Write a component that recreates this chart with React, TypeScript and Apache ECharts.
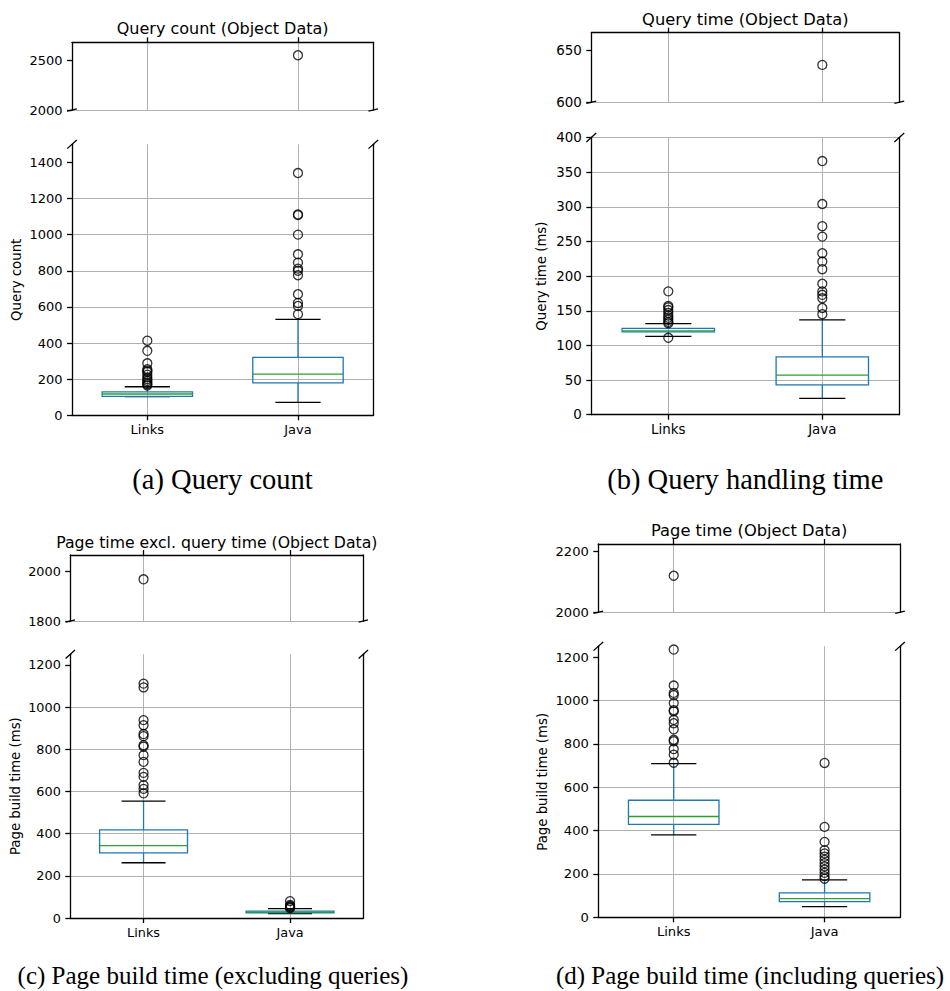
import React, { useEffect, useRef } from "react";
import * as echarts from "echarts";

// ---------- data ----------
const categories = ["Links", "Java"];

// (a) Query count
const countTitle = "Query count (Object Data)";
const countYName = "Query count";
const countTopRange = [2000, 2680];
const countTopTicks = [2000, 2500];
const countBottomRange = [0, 1500];
const countBottomTicks = [0, 200, 400, 600, 800, 1000, 1200, 1400];
// [lower whisker, Q1, median, Q3, upper whisker]
const countLinksBox = [103, 105, 118, 130, 158];
const countJavaBox = [72, 179, 228, 321, 531];
const countLinksOutliers = [413, 357, 288, 255, 247, 240, 225, 210, 200, 190, 180, 172, 165];
const countJavaOutliers = [2550, 1341, 1112, 1108, 1000, 891, 845, 812, 800, 775, 670, 622, 605, 560];

// (b) Query time
const qtimeTitle = "Query time (Object Data)";
const qtimeYName = "Query time (ms)";
const qtimeTopRange = [600, 667];
const qtimeTopTicks = [600, 650];
const qtimeBottomRange = [0, 400];
const qtimeBottomTicks = [0, 50, 100, 150, 200, 250, 300, 350, 400];
const qtimeLinksBox = [113, 119.4, 121, 124.7, 131.4];
const qtimeJavaBox = [23.6, 43, 57, 83.3, 136.7];
const qtimeLinksOutliers = [178, 157, 155, 151, 147, 143, 140, 137, 134, 132, 111];
const qtimeJavaOutliers = [636, 366, 304, 272, 257, 233, 221, 210, 189, 178, 173, 168, 154, 145];

// (c) Page time excluding query time
const pexclTitle = "Page time excl. query time (Object Data)";
const pexclYName = "Page build time (ms)";
const pexclTopRange = [1800, 2066];
const pexclTopTicks = [1800, 2000];
const pexclBottomRange = [0, 1250];
const pexclBottomTicks = [0, 200, 400, 600, 800, 1000, 1200];
const pexclLinksBox = [262, 309, 343, 418, 554];
const pexclJavaBox = [21, 25, 28, 33, 44];
const pexclLinksOutliers = [1968, 1111, 1093, 938, 914, 872, 862, 819, 812, 772, 740, 688, 669, 630, 612, 591];
const pexclJavaOutliers = [80, 62, 57, 53, 50, 47];

// (d) Page time
const ptimeTitle = "Page time (Object Data)";
const ptimeYName = "Page build time (ms)";
const ptimeTopRange = [2000, 2224];
const ptimeTopTicks = [2000, 2200];
const ptimeBottomRange = [0, 1250];
const ptimeBottomTicks = [0, 200, 400, 600, 800, 1000, 1200];
const ptimeLinksBox = [380, 429, 465, 540, 709];
const ptimeJavaBox = [49, 72, 86, 113, 173];
const ptimeLinksOutliers = [2120, 1235, 1069, 1035, 1025, 988, 955, 950, 911, 895, 867, 819, 812, 776, 750, 713];
const ptimeJavaOutliers = [712, 417, 348, 310, 295, 280, 265, 250, 235, 220, 205, 190, 178];

const captions = [
  "(a) Query count",
  "(b) Query handling time",
  "(c) Page build time (excluding queries)",
  "(d) Page build time (including queries)",
];

// ---------- layout / style ----------
const BLUE = "#1f77b4";
const GREEN = "#2ca02c";
const GRID = "#b0b0b0";
const INK = "#000000";
const SANS = "DejaVu Sans";
const SERIF = "Liberation Serif";

type Rect = [number, number, number, number];
const layouts: {
  top: Rect;
  bottom: Rect;
  titleY: number;
  titleSize: number;
  tickSize: number;
  nameGap: number;
  capX: number;
  capY: number;
  capSize: number;
}[] = [
  { top: [72, 42.3, 301.3, 67.7], bottom: [72, 144.3, 301.3, 271], titleY: 28.5, titleSize: 16, tickSize: 13, nameGap: 49, capX: 222.5, capY: 479, capSize: 28.5 },
  { top: [591.3, 32.7, 308, 69.6], bottom: [591.3, 137.5, 308, 277.2], titleY: 19.2, titleSize: 16.3, tickSize: 13.4, nameGap: 43, capX: 745.3, capY: 479, capSize: 28.5 },
  { top: [70.3, 555, 293, 66], bottom: [70.3, 654.3, 293, 263.7], titleY: 542.5, titleSize: 15.7, tickSize: 12.8, nameGap: 48, capX: 213, capY: 975, capSize: 25 },
  { top: [598.3, 544, 301.7, 68.3], bottom: [598.3, 646.3, 301.7, 271], titleY: 530.8, titleSize: 16.3, tickSize: 13.1, nameGap: 49, capX: 750, capY: 975, capSize: 25 },
];

const panels = [
  { title: countTitle, yName: countYName, topRange: countTopRange, topTicks: countTopTicks, bottomRange: countBottomRange, bottomTicks: countBottomTicks, boxes: [countLinksBox, countJavaBox], outliers: [countLinksOutliers, countJavaOutliers] },
  { title: qtimeTitle, yName: qtimeYName, topRange: qtimeTopRange, topTicks: qtimeTopTicks, bottomRange: qtimeBottomRange, bottomTicks: qtimeBottomTicks, boxes: [qtimeLinksBox, qtimeJavaBox], outliers: [qtimeLinksOutliers, qtimeJavaOutliers] },
  { title: pexclTitle, yName: pexclYName, topRange: pexclTopRange, topTicks: pexclTopTicks, bottomRange: pexclBottomRange, bottomTicks: pexclBottomTicks, boxes: [pexclLinksBox, pexclJavaBox], outliers: [pexclLinksOutliers, pexclJavaOutliers] },
  { title: ptimeTitle, yName: ptimeYName, topRange: ptimeTopRange, topTicks: ptimeTopTicks, bottomRange: ptimeBottomRange, bottomTicks: ptimeBottomTicks, boxes: [ptimeLinksBox, ptimeJavaBox], outliers: [ptimeLinksOutliers, ptimeJavaOutliers] },
];

const LW = 1.3;

function renderBox(params: any, api: any) {
  const x = api.value(0);
  const pLow = api.coord([x, api.value(1)]);
  const pQ1 = api.coord([x, api.value(2)]);
  const pMed = api.coord([x, api.value(3)]);
  const pQ3 = api.coord([x, api.value(4)]);
  const pHigh = api.coord([x, api.value(5)]);
  const band = api.size([1, 0])[0];
  const bw = band * 0.6;
  const cw = band * 0.3;
  const cx = pMed[0];
  const line = (x1: number, y1: number, x2: number, y2: number, c: string) => ({
    type: "line",
    shape: { x1, y1, x2, y2 },
    style: { stroke: c, lineWidth: LW, fill: "none" },
  });
  return {
    type: "group",
    children: [
      line(cx, pQ1[1], cx, pLow[1], BLUE),
      line(cx, pQ3[1], cx, pHigh[1], BLUE),
      line(cx - cw / 2, pLow[1], cx + cw / 2, pLow[1], INK),
      line(cx - cw / 2, pHigh[1], cx + cw / 2, pHigh[1], INK),
      {
        type: "rect",
        shape: { x: cx - bw / 2, y: pQ3[1], width: bw, height: pQ1[1] - pQ3[1] },
        style: { fill: "none", stroke: BLUE, lineWidth: LW },
      },
      line(cx - bw / 2, pMed[1], cx + bw / 2, pMed[1], GREEN),
    ],
  };
}

function buildOption() {
  const grid: any[] = [];
  const xAxis: any[] = [];
  const yAxis: any[] = [];
  const series: any[] = [];
  const graphic: any[] = [];

  panels.forEach((p, i) => {
    const L = layouts[i];
    const parts = [
      { rect: L.top, range: p.topRange, ticks: p.topTicks, isTop: true },
      { rect: L.bottom, range: p.bottomRange, ticks: p.bottomTicks, isTop: false },
    ];
    parts.forEach((part) => {
      const gi = grid.length;
      const [l, t, w, h] = part.rect;
      grid.push({ left: l, top: t, width: w, height: h, containLabel: false });
      xAxis.push({
        type: "category",
        gridIndex: gi,
        data: categories,
        position: part.isTop ? "top" : "bottom",
        boundaryGap: true,
        axisLine: { show: true, onZero: false, lineStyle: { color: INK, width: LW } },
        axisTick: { show: true, alignWithLabel: true, length: 5, lineStyle: { color: INK, width: LW } },
        axisLabel: {
          show: !part.isTop,
          margin: 8,
          color: INK,
          fontSize: L.tickSize,
          fontFamily: SANS,
        },
        splitLine: { show: true, alignWithLabel: true, lineStyle: { color: GRID, width: 1 } },
      });
      const [mn, mx] = part.range;
      const interval = part.ticks[1] - part.ticks[0];
      const yi = yAxis.length;
      yAxis.push({
        type: "value",
        gridIndex: gi,
        position: "left",
        min: mn,
        max: mx,
        interval,
        name: part.isTop ? "" : p.yName,
        nameLocation: "middle",
        nameGap: L.nameGap,
        nameTextStyle: { color: INK, fontSize: 13.3, fontFamily: SANS },
        axisLine: { show: true, onZero: false, lineStyle: { color: INK, width: LW } },
        axisTick: { show: true, length: 5, customValues: part.ticks, lineStyle: { color: INK, width: LW } },
        axisLabel: {
          show: true,
          customValues: part.ticks,
          margin: 9.5,
          color: INK,
          fontSize: L.tickSize,
          fontFamily: SANS,
          formatter: (v: number) => String(v),
        },
        splitLine: {
          show: true,
          showMaxLine: part.ticks.includes(mx),
          lineStyle: { color: GRID, width: 1 },
        },
      });
      yAxis.push({
        type: "value",
        gridIndex: gi,
        position: "right",
        min: mn,
        max: mx,
        interval,
        axisLine: { show: true, onZero: false, lineStyle: { color: INK, width: LW } },
        axisTick: { show: false },
        axisLabel: { show: false },
        splitLine: { show: false },
      });

      if (!part.isTop) {
        series.push({
          type: "custom",
          xAxisIndex: gi,
          yAxisIndex: yi,
          renderItem: renderBox,
          encode: { x: 0, y: [1, 2, 3, 4, 5] },
          data: p.boxes.map((b, k) => [k, ...b]),
          z: 3,
          silent: true,
        });
      }
      const pts: any[] = [];
      p.outliers.forEach((arr, k) => {
        arr
          .filter((v) => v >= mn && v <= mx)
          .forEach((v) => pts.push([k, v]));
      });
      series.push({
        type: "scatter",
        xAxisIndex: gi,
        yAxisIndex: yi,
        symbol: "circle",
        symbolSize: 9,
        clip: false,
        data: pts,
        itemStyle: { color: "rgba(0,0,0,0)", borderColor: INK, borderWidth: 1.3 },
        z: 4,
        silent: true,
      });

      // broken-axis diagonal marks
      const d = 0.016;
      const dx = d * w;
      const dy = d * h;
      const yEdge = part.isTop ? t + h : t;
      [l, l + w].forEach((xe) => {
        graphic.push({
          type: "line",
          shape: { x1: xe - dx, y1: yEdge + dy, x2: xe + dx, y2: yEdge - dy },
          style: { stroke: INK, lineWidth: LW },
          z: 100,
          silent: true,
        });
      });
    });

    const cx = L.top[0] + L.top[2] / 2;
    graphic.push({
      type: "text",
      x: cx,
      y: L.titleY,
      style: {
        text: p.title,
        fill: INK,
        fontSize: L.titleSize,
        fontFamily: SANS,
        textAlign: "center",
        align: "center",
        textVerticalAlign: "middle",
        verticalAlign: "middle",
      },
      z: 100,
      silent: true,
    });
    graphic.push({
      type: "text",
      x: L.capX,
      y: L.capY,
      style: {
        text: captions[i],
        fill: INK,
        fontSize: L.capSize,
        fontFamily: SERIF,
        textAlign: "center",
        align: "center",
        textVerticalAlign: "middle",
        verticalAlign: "middle",
      },
      z: 100,
      silent: true,
    });
  });

  return {
    animation: false,
    backgroundColor: "#ffffff",
    grid,
    xAxis,
    yAxis,
    series,
    graphic: { elements: graphic },
  };
}

export default function App() {
  const ref = useRef<HTMLDivElement>(null);
  useEffect(() => {
    document.body.style.margin = "0";
    if (!ref.current) return;
    const chart = echarts.init(ref.current, undefined, { renderer: "svg" });
    chart.setOption(buildOption() as any);
    return () => chart.dispose();
  }, []);
  return (
    <div
      ref={ref}
      style={{ position: "absolute", left: 0, top: 0, width: 950, height: 991, background: "#fff" }}
    />
  );
}
